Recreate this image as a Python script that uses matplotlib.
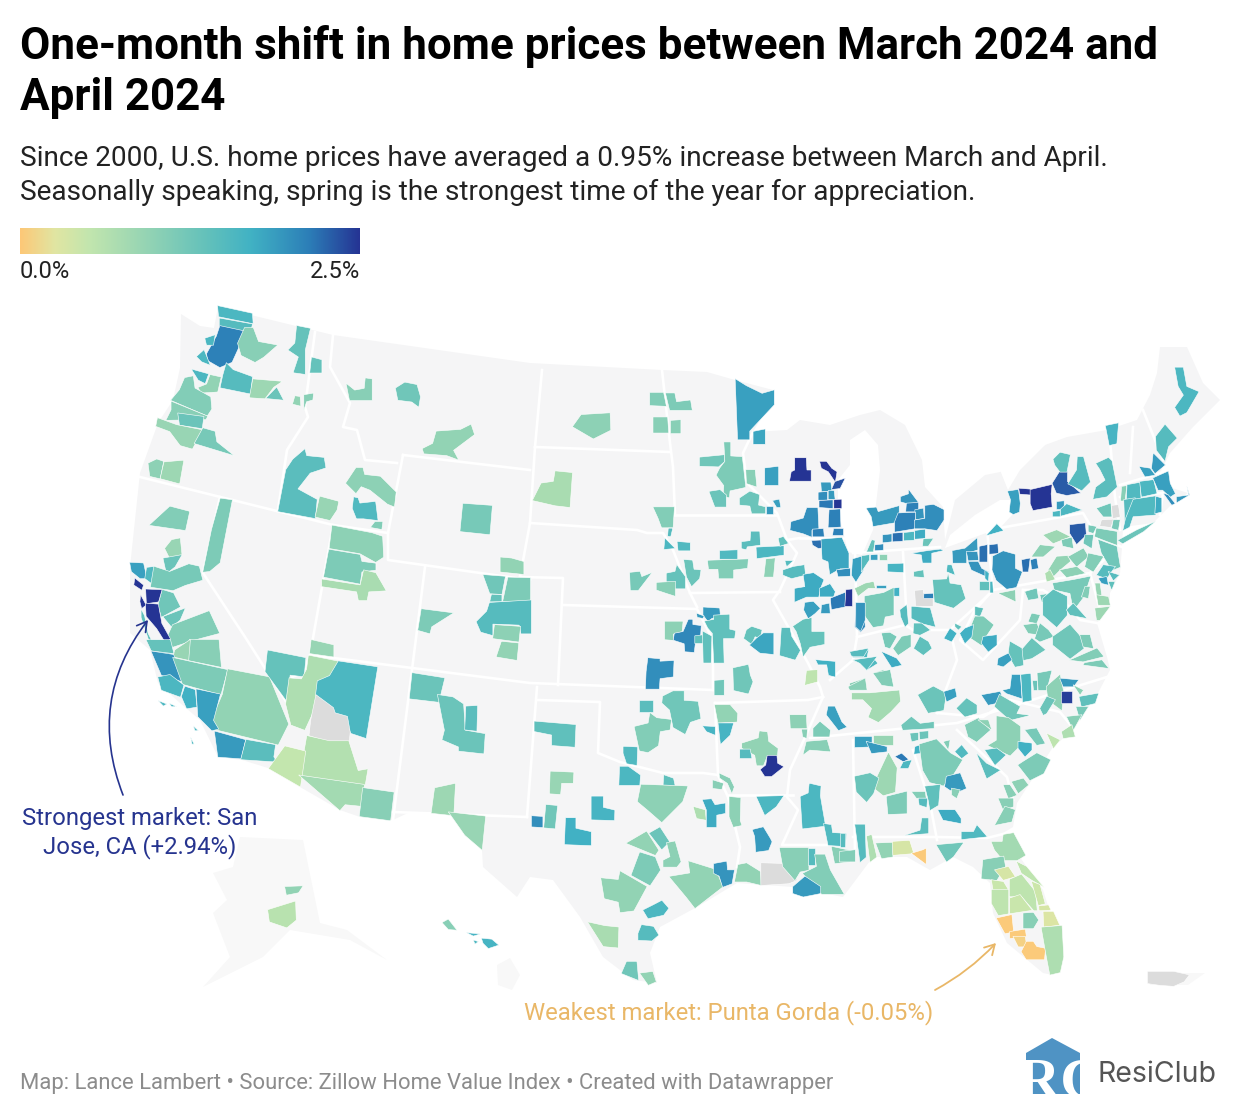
#!/usr/bin/env python3
"""One-month shift in home prices, market map (shapes traced off the published map)."""
import matplotlib
matplotlib.use("Agg")
import matplotlib.pyplot as plt
import numpy as np
from matplotlib.colors import LinearSegmentedColormap, Normalize
from matplotlib.patches import FancyArrowPatch, Polygon

NA = float("nan")

# ── Land, in map units ───────────────────────────────
lower48 = [(181,314),(200,326),(214,328),(218,307),(333,335),(530,363),(662,370),(707,372),(735,380),(773,390),
           (800,392),(845,400),(880,410),(905,425),(935,425),(965,445),(985,470),(1010,470),(1045,445),(1067,437),(1107,430),(1137,420),
           (1150,395),(1157,373),(1160,347),(1187,347),(1203,383),(1220,400),(1193,427),(1170,453),(1160,473),
           (1172,488),(1188,493),(1173,503),(1153,523),(1123,527),(1122,547),(1120,573),(1110,593),(1110,607),
           (1097,623),(1107,657),(1110,670),(1098,693),(1073,730),(1053,747),(1017,803),(1013,827),(1003,833),
           (1017,853),(1043,890),(1063,953),(1053,975),(1043,973),(1007,943),(993,913),(990,883),(973,867),
           (953,857),(930,870),(907,857),(873,857),(843,897),(793,887),(737,883),(697,907),(660,927),(650,953),
           (657,983),(633,980),(603,957),(580,917),(553,880),(530,877),(517,897),(483,867),(482,850),(448,812),
           (410,812),(393,820),(360,817),(340,810),(300,787),(268,768),(242,760),(218,757),(200,720),(180,703),
           (158,683),(150,650),(130,633),(130,567),(140,473),(158,423),(173,400),(180,368)]
lake_superior = [(773,390),(760,420),(753,432),(787,430),(800,420),(830,425),(860,415),(880,410),(880,395),(800,385)]
lake_michigan = [(878,445),(880,470),(873,530),(862,555),(848,552),(838,510),(838,480),(850,465),(850,440),(865,430)]
lake_huron = [(925,395),(1000,400),(1010,470),(985,475),(955,500),(945,540),(943,507),(925,487),(922,460),(905,425)]
lake_erie = [(945,548),(1000,528),(1012,515),(1012,500),(1000,500),(975,515),(950,535)]
lake_ontario = [(1008,490),(1020,470),(1045,445),(1012,440),(1000,470)]
alaska = [(240,837),(303,840),(320,923),(347,930),(387,960),(350,940),(290,930),(263,957),(203,987),(230,957),
          (213,913),(227,900),(213,873),(233,867)]
hawaii = [(497,965),(510,958),(520,975),(512,990),(498,985)]
puerto_rico = [(1148,973),(1205,973),(1188,985),(1150,985)]

# state lines
state_lines = [
    [(315,332),(305,407),(308,417),(287,450),(278,510)],
    [(333,335),(330,367),(350,403),(343,427),(357,430),(365,460),(397,463)],
    [(403,455),(530,470)], [(403,455),(388,533),(388,560),(530,580)],
    [(140,477),(333,525),(388,533)], [(220,497),(203,573),(247,640),(287,703),(293,723)],
    [(333,525),(310,655),(303,673),(292,677),(287,703)], [(310,655),(530,683),(713,690)],
    [(425,567),(393,820)], [(535,447),(542,370)], [(535,447),(530,523),(520,577)],
    [(520,577),(563,578),(558,685)], [(530,523),(637,530),(647,533),(663,533),(673,550),(690,593),(697,607)],
    [(563,605),(697,609),(713,640),(713,690)], [(537,687),(527,817)], [(393,812),(527,817)],
    [(537,700),(600,702),(598,753),(620,762),(663,773),(703,773),(718,775)],
    [(715,703),(718,775),(728,797),(740,847),(737,867)], [(715,703),(808,700),(823,697)],
    [(728,795),(793,795)], [(823,697),(807,733),(790,770),(787,797),(798,810),(782,845),(827,845)],
    [(853,740),(855,853)], [(810,738),(957,723),(1107,677)], [(913,750),(930,803),(937,840)],
    [(853,837),(937,837),(987,838),(1007,833)], [(957,730),(1007,777),(1013,800)],
    [(937,713),(983,717),(1010,700),(1060,712),(1073,728)], [(535,447),(670,452)],
    [(662,370),(670,443),(673,467),(675,515)], [(675,515),(777,515)], [(753,432),(743,453),(747,483),(777,513),(787,540),(797,553),(780,590),(773,600),(790,630),(808,663),(820,687),(823,697)],
    [(690,593),(780,592)], [(800,538),(848,538)], [(855,550),(857,637),(853,660),(830,680)],
    [(853,553),(940,547)], [(903,552),(907,623)], [(857,637),(905,625),(913,630),(950,630),(983,600),(993,590)],
    [(987,530),(993,590),(1090,573)], [(1000,528),(1083,513),(1097,537),(1107,557),(1090,573)],
    [(1097,537),(1122,547)], [(1023,590),(1043,590),(1070,607),(1080,620),(1097,623)], [(993,590),(975,610),(960,640),(983,660),(1020,620),(1023,590)],
    [(1143,410),(1163,460)], [(1133,427),(1130,473)], [(1110,440),(1115,497),(1120,530)], [(1120,485),(1160,473)], [(1120,497),(1163,493)],
    [(1090,573),(1100,610)], [(787,540),(800,538)], [(950,630),(957,660),(937,713)],
    [(1163,493),(1160,515)],
]

# ── Markets, traced per crop of the map: (crop corner) + coords / 3 ──
origin_nw = (130, 300)
shapes_nw = [
    [(265,18),(365,40),(367,70),(268,50)], [(270,55),(365,72),(360,95),(270,85)],
    [(270,80),(340,95),(330,130),(305,185),(270,200),(235,180),(232,160),(260,110)],
    [(225,115),(255,105),(250,135),(230,135)], [(200,170),(222,150),(240,195),(215,185)],
    [(345,85),(370,85),(385,125),(440,135),(400,170),(375,185),(335,165),(325,130)],
    [(500,80),(540,88),(525,150),(525,220),(490,215),(505,170),(475,150),(495,130)],
    [(545,172),(575,180),(575,218),(540,218)], [(185,208),(235,222),(225,250),(205,240)],
    [(240,225),(272,232),(262,275),(215,278),(205,262),(230,252)],
    [(290,190),(310,210),(365,230),(360,280),(272,262),(280,225)],
    [(370,238),(455,245),(430,262),(405,295),(360,292)], [(440,262),(460,300),(408,295)],
    [(495,288),(510,290),(512,318),(488,312)], [(522,285),(550,280),(548,300),(530,305),(522,330)],
    [(165,235),(190,230),(195,265),(240,290),(243,325),(230,345),(125,300),(150,270)],
    [(125,305),(230,348),(225,358),(110,360),(125,330)], [(145,340),(220,350),(215,385),(150,375)],
    [(85,355),(140,375),(215,390),(185,445),(150,435),(120,395),(80,380)],
    [(220,385),(255,395),(260,425),(310,465),(195,430)],
    [(55,490),(80,478),(100,485),(90,535),(60,528)], [(103,487),(160,482),(148,550),(92,535)],
    [(525,450),(530,470),(580,475),(585,505),(540,520),(505,565),(560,595),(555,650),(447,630),(470,510),(490,480)],
    [(570,590),(625,605),(620,630),(600,660),(557,650)],
    [(680,505),(700,505),(705,525),(750,530),(795,575),(790,618),(770,610),(720,570),(695,560),(680,580),(650,550)],
    [(672,592),(685,595),(690,610),(735,605),(742,660),(700,655),(680,655),(668,625)],
    [(735,665),(758,665),(755,688),(722,682)],
    [(650,250),(675,270),(702,265),(705,235),(725,238),(725,300),(660,300)],
    [(798,265),(825,248),(860,255),(870,290),(865,320),(845,305),(805,300)],
    [(920,395),(990,390),(1020,375),(1030,405),(970,450),(985,478),(950,465),(885,460),(880,445),(910,430)],
    [(1000,612),(1085,618),(1078,702),(992,693)],
    [(610,678),(725,700),(755,710),(758,770),(735,785),(690,760),(602,745)],
    [(600,750),(690,765),(695,785),(735,790),(735,810),(695,815),(690,850),(585,830)],
    [(580,838),(690,855),(700,812),(735,820),(765,872),(715,875),(710,900),(685,900),(680,875),(580,860)],
    [(1112,772),(1145,775),(1180,785),(1180,822),(1112,815)], [(1060,825),(1125,830),(1115,882),(1080,880)],
    [(1135,833),(1200,835),(1200,905),(1120,903)], [(1085,883),(1115,885),(1115,905),(1080,905)],
    [(1080,910),(1200,903),(1200,1000),(1170,1000),(1165,975),(1090,972),(1090,1005),(1055,995),(1042,965),(1072,935)],
    [(1095,975),(1170,980),(1165,1025),(1090,1015)], [(1115,1025),(1165,1030),(1160,1080),(1100,1070)],
    [(875,928),(968,940),(905,980),(900,1000),(865,990)],
    [(270,600),(305,605),(270,785),(240,810),(220,812),(245,690)], [(120,620),(177,635),(165,690),(60,675)],
    [(125,720),(150,715),(155,765),(120,775),(105,745)], [(100,775),(155,765),(135,800),(110,820)],
    [(0,788),(40,790),(50,835),(30,835),(5,815)], [(50,803),(75,800),(65,850),(45,835)],
    [(75,800),(120,815),(175,793),(205,800),(215,840),(165,855),(130,870),(65,860)],
    [(97,870),(130,880),(150,920),(95,950),(85,915)], [(100,950),(165,925),(150,960),(125,980)],
    [(130,975),(235,935),(265,1000),(190,1020),(130,1040),(110,1020)],
    [(35,930),(45,950),(55,1000),(70,1030),(130,1065),(125,1080),(65,1045),(35,955)],
    [(15,835),(40,855),(35,870),(12,855)], [(48,868),(95,870),(85,905),(50,910)], [(32,885),(48,915),(35,925),(30,905)],
    [(48,912),(85,915),(95,970),(120,1015),(105,1025),(80,985),(50,950)],
]
values_nw = [1.6,1.5,2.1,1.6,1.6,1.05,1.35,1.35,1.6,.95,1.5,.85,1.3,.95,1.05,1.1,1.05,1.3,.9,1.2,1.0,.85,
             1.45,.9,1.0,1.55,1.1,1.05,1.25,.95,1.2,1.0,1.15,.75,.95,1.25,1.15,1.35,1.5,1.0,.95,1.15,
             1.15,1.1,.9,1.3,1.85,1.55,1.2,1.25,1.3,1.1,1.4,2.6,2.6,2.5,2.6]

origin_sw = (130, 640)
shapes_sw = [
    [(180,0),(265,0),(272,80),(175,60)], [(135,30),(180,0),(175,60),(130,50)], [(50,0),(120,0),(130,40),(65,32)],
    [(65,35),(130,45),(160,125),(95,105)], [(132,55),(290,90),(270,162),(160,132)],
    [(295,92),(415,115),(470,250),(440,310),(255,265),(250,235),(280,165)],
    [(85,112),(120,105),(160,135),(150,170),(95,150)], [(165,140),(195,150),(200,200),(170,205),(155,170)],
    [(200,150),(270,165),(250,240),(265,265),(245,270),(205,230)], [(255,275),(345,300),(332,355),(265,350)],
    [(350,300),(435,315),(430,350),(440,365),(335,358)],
    [(415,33),(525,55),(520,110),(480,105),(470,180),(408,95)],
    [(535,50),(625,68),(600,110),(565,125),(555,200),(525,265),(485,250),(470,190),(480,115),(515,118),(530,90)],
    [(625,68),(738,85),(705,290),(660,275),(645,230),(610,220),(585,190),(560,165),(565,125),(600,110)],
    [(560,168),(610,205),(615,220),(650,230),(658,275),(655,305),(600,305),(540,285),(545,240)],
    [(535,290),(600,305),(655,305),(682,390),(710,385),(702,432),(515,405)],
    [(465,320),(525,335),(510,438),(418,385)], [(512,408),(700,435),(695,498),(645,493),(630,510)],
    [(700,445),(790,458),(780,540),(690,528)], [(848,100),(942,115),(925,185),(840,175)],
    [(925,168),(970,175),(1000,195),(1005,270),(1062,280),(1058,338),(985,330),(985,318),(938,298),(945,270),(938,235)],
    [(1008,200),(1042,198),(1040,272),(1005,268)], [(915,445),(975,432),(970,525),(905,518)],
    [(958,518),(1065,530),(1055,628),(1005,585)], [(545,0),(610,15),(610,50),(540,40)],
    [(465,740),(518,738),(505,758),(470,765)], [(415,810),(495,785),(497,840),(470,862),(420,845)],
    [(937,848),(955,838),(980,870),(955,868)], [(1010,878),(1050,882),(1030,888)],
    [(1055,895),(1085,898),(1105,915),(1075,925),(1060,910)], [(1030,900),(1045,905),(1035,912)],
    [(85,182),(110,192),(100,198)], [(118,190),(140,200),(125,200)], [(190,258),(205,272),(195,272)],
    [(182,292),(192,312),(186,312)],
]
values_sw = [1.05,.9,1.35,1.95,1.15,.95,1.6,1.7,1.85,1.9,1.45,1.35,.7,1.6,NA,.65,.5,.8,1.05,1.3,1.3,1.45,.85,.9,.9,
             .95,.6,1.05,1.65,1.65,1.6,1.6,1.6,1.6,1.6]

origin_nc = (520, 370)
shapes_nc = [
    [(390,68),(430,68),(438,108),(390,106)], [(438,70),(465,70),(470,95),(510,90),(515,120),(450,120)],
    [(400,142),(442,142),(445,188),(400,188)], [(452,152),(482,150),(482,190),(452,190)],
    [(185,135),(268,130),(270,180),(220,205),(160,170)], [(105,305),(155,310),(148,410),(105,405),(40,390),(65,340),(100,335)],
    [(648,30),(680,50),(725,72),(760,62),(760,105),(690,180),(690,205),(655,205)], [(700,185),(735,178),(735,222),(700,222)],
    [(612,220),(632,220),(632,260),(665,262),(675,350),(630,360),(628,380),(610,375),(612,345),(590,315),(600,295),(615,275)],
    [(540,262),(612,255),(612,275),(595,290),(540,288)], [(678,300),(705,300),(710,350),(680,340)],
    [(735,295),(775,290),(775,345),(735,345)], [(568,365),(600,360),(618,375),(618,410),(585,410)],
    [(690,365),(718,375),(715,405),(735,410),(735,430),(695,430),(690,408),(660,405),(660,385)],
    [(738,408),(758,408),(758,430),(738,430)], [(758,392),(778,388),(782,412),(770,412)],
    [(825,265),(858,265),(860,300),(872,300),(872,332),(810,332),(815,305),(825,300)],
    [(900,275),(920,275),(935,295),(950,305),(945,335),(925,305),(905,295)], [(945,335),(975,325),(960,355),(935,358)],
    [(903,337),(932,337),(935,362),(905,365)], [(895,367),(922,365),(922,390),(895,390)], [(925,362),(942,362),(945,388),(925,388)],
    [(898,392),(938,390),(938,415),(898,412)], [(942,390),(965,388),(965,415),(942,415)],
    [(860,415),(892,415),(895,478),(875,480),(875,500),(850,490),(812,480),(815,455),(850,445)],
    [(928,420),(960,418),(962,470),(925,472)], [(940,475),(968,475),(968,495),(938,495)], [(878,478),(910,476),(912,500),(878,500)],
    [(876,512),(915,510),(915,532),(895,535),(878,525)],
    [(905,510),(965,505),(985,550),(985,595),(960,595),(930,612),(925,575),(908,568)], [(950,600),(990,595),(990,618),(955,620)],
    [(998,568),(1025,560),(1030,600),(1008,635),(995,615)],
    [(692,485),(718,485),(720,525),(682,530),(680,538),(665,535),(665,515),(690,512)], [(710,532),(790,528),(790,555),(712,565)],
    [(775,505),(790,500),(805,520),(780,528)], [(600,542),(652,540),(652,567),(600,567)],
    [(565,572),(682,568),(680,595),(640,600),(640,625),(597,625),(595,598),(568,598)], [(738,568),(765,565),(760,620),(732,620)],
    [(795,572),(820,572),(800,590)], [(790,600),(820,590),(852,585),(855,615),(815,625),(790,615)],
    [(400,412),(462,412),(458,472),(425,472),(415,445)], [(445,475),(458,475),(452,500),(443,498)], [(435,505),(465,535),(432,538)],
    [(472,515),(510,518),(510,542),(475,542)], [(492,570),(518,572),(522,598),(542,600),(538,625),(515,648),(500,620)],
    [(440,610),(465,605),(470,585),(495,620),(495,655),(465,655),(440,635)], [(410,638),(465,635),(465,678),(440,670),(410,660)],
    [(330,608),(360,605),(365,620),(395,608),(355,660),(332,660)],
    [(550,712),(598,715),(600,738),(575,745),(565,755),(550,735)], [(530,730),(552,738),(548,745),(532,742)],
    [(435,755),(488,755),(485,785),(460,792),(460,810),(435,808)],
    [(505,750),(518,750),(518,765),(542,768),(540,800),(525,820),(522,845),(495,843),(493,820),(462,810),(465,790),(490,785)],
    [(525,798),(548,795),(550,820),(525,820)],
    [(555,755),(582,750),(582,738),(628,735),(628,778),(645,782),(642,805),(610,805),(612,875),(582,875),(578,790),(565,775)],
    [(548,785),(575,800),(573,877),(550,877)],
    [(385,865),(420,868),(420,875),(460,873),(458,920),(420,925),(418,955),(378,955),(380,905)],
    [(680,780),(695,770),(725,780),(720,805),(705,800),(695,822),(672,805)], [(690,825),(710,805),(730,790),(760,790),(760,852),(720,848)],
    [(785,775),(810,775),(815,800),(840,840),(825,868),(780,855)],
    [(850,750),(875,745),(875,785),(912,785),(912,822),(870,830),(850,858),(842,820),(830,785),(820,770)],
    [(850,615),(880,610),(910,630),(900,655),(895,680),(860,680),(825,695),(825,655),(855,650)], [(900,655),(930,642),(945,665),(940,680),(900,680)],
    [(932,685),(975,668),(975,710),(935,718)], [(978,660),(997,658),(997,708),(975,708)],
    [(855,698),(880,695),(900,715),(885,730),(865,745),(852,720)], [(905,705),(928,700),(930,730),(903,730)],
    [(1008,700),(1032,700),(1035,770),(1022,785),(1005,770)], [(888,870),(945,875),(945,920),(925,915),(920,885),(895,885)],
    [(860,902),(892,900),(892,935),(855,945)], [(640,895),(685,885),(690,915),(698,935),(685,970),(642,960)],
    [(583,932),(612,930),(612,975),(583,975)], [(990,850),(1045,838),(1040,862),(1000,862)],
    [(1000,872),(1025,870),(1060,865),(1072,880),(1040,900),(1025,880)],
]
values_nc = [1.1,1.15,1.05,1.05,1.0,.75,1.85,1.8,1.15,1.25,1.05,1.85,1.3,1.3,1.9,1.85,2.6,2.5,2.35,1.9,2.0,1.9,2.15,2.6,
             2.0,2.1,2.1,2.1,2.2,1.8,2.0,1.85,1.45,1.6,1.4,1.55,1.1,1.0,1.5,1.5,1.1,1.5,1.6,1.55,1.3,1.35,1.05,1.2,
             1.9,1.9,1.0,2.05,1.4,1.4,1.4,2.0,1.35,1.8,1.45,1.35,1.75,1.75,2.15,2.55,1.85,1.9,2.05,1.7,.55,1.25,1.25,1.55,1.55]

origin_ne = (840, 340)
shapes_ne = [
    [(80,505),(110,502),(115,515),(175,498),(175,545),(100,558),(95,530)], [(182,470),(205,462),(205,448),(235,488),(200,490),(182,485)],
    [(200,490),(235,488),(235,515),(198,515)], [(225,510),(250,505),(252,535),(228,538)], [(175,520),(225,518),(225,565),(165,575),(165,545)],
    [(255,498),(280,495),(310,510),(310,540),(290,570),(255,565),(225,565),(225,540),(255,535)],
    [(128,585),(155,582),(155,605),(128,608)], [(158,580),(188,578),(188,603),(158,605)], [(192,578),(222,575),(222,600),(192,602)],
    [(225,572),(255,568),(255,595),(225,597)], [(250,597),(280,595),(265,618),(248,618)], [(105,615),(130,612),(130,630),(105,632)],
    [(95,600),(105,602),(100,635),(80,635)], [(65,648),(88,645),(88,660),(68,690),(65,695)], [(92,645),(113,643),(113,660),(92,660)],
    [(117,643),(140,643),(140,660),(117,660)], [(143,672),(190,670),(190,697),(143,695)],
    [(45,745),(75,730),(100,725),(105,745),(85,745),(55,768)], [(108,735),(138,735),(138,745),(108,745)], [(157,745),(178,743),(178,768),(157,768)],
    [(75,770),(130,760),(160,745),(160,825),(135,830),(130,855),(100,860),(75,825)], [(215,640),(265,632),(300,628),(310,632),(275,640),(275,668),(248,668),(245,645)],
    [(222,695),(250,690),(252,712),(222,710)], [(322,675),(335,675),(345,705),(320,695)],
    [(338,632),(375,625),(410,595),(412,630),(380,640),(380,668),(340,668)], [(380,635),(412,635),(415,660),(385,662)],
    [(418,620),(442,615),(442,665),(418,665)], [(448,615),(473,612),(475,640),(448,642)], [(385,665),(415,665),(425,685),(445,695),(440,710),(395,690)],
    [(418,725),(445,725),(445,750),(418,750)], [(435,690),(447,700),(445,725),(435,715)], [(450,725),(458,725),(460,758),(450,758)],
    [(225,752),(250,750),(250,760),(278,762),(278,798),(228,797)], [(252,762),(280,760),(280,775),(252,775)],
    [(280,720),(320,718),(325,700),(330,730),(362,735),(375,775),(340,802),(285,785)],
    [(460,650),(490,635),(525,645),(525,685),(545,695),(528,740),(500,745),(470,720),(458,690)], [(545,660),(570,655),(565,695),(548,695)],
    [(572,660),(590,655),(595,685),(575,688)], [(440,585),(470,552),(490,572),(445,585)],
    [(503,455),(535,450),(540,490),(538,515),(520,522),(508,515),(512,480)], [(537,445),(575,448),(575,465),(540,462)],
    [(572,450),(635,435),(632,462),(635,500),(580,510),(572,490)], [(638,430),(660,395),(682,395),(682,425),(720,458),(680,465),(650,458)],
    [(650,485),(672,483),(672,508),(650,508)], [(638,515),(660,512),(660,530),(638,530)], [(662,508),(680,492),(725,510),(662,528)],
    [(640,358),(660,338),(690,345),(680,395),(660,395),(645,375)], [(712,352),(730,352),(750,425),(725,450),(685,430),(710,390)],
    [(768,372),(805,355),(815,365),(830,440),(800,468),(760,475),(768,440),(795,420),(780,390)], [(797,258),(835,250),(830,310),(808,315)],
    [(1005,85),(1030,85),(1040,140),(1075,155),(1040,215),(1020,225),(1005,200),(1030,165),(1015,140)], [(975,255),(1010,295),(985,320),(975,362),(950,330),(948,290)],
    [(940,340),(975,375),(945,400),(935,385)], [(898,380),(930,385),(945,405),(915,410)],
    [(845,440),(860,438),(855,482),(842,482)], [(862,435),(900,428),(902,475),(860,480)], [(900,425),(940,420),(950,460),(905,470)],
    [(940,415),(985,395),(990,430),(1005,460),(990,470),(968,450),(955,450)], [(970,460),(985,465),(1005,490),(995,495)],
    [(1010,470),(1045,465),(1040,440),(1048,465),(1010,488)], [(852,480),(885,475),(880,520),(855,560)],
    [(880,480),(945,470),(945,525),(880,530),(870,560),(850,570),(858,535)], [(948,470),(965,475),(965,515),(945,520)],
    [(835,600),(890,570),(945,545),(910,575),(850,610)], [(770,505),(812,490),(815,530),(790,530)], [(815,497),(835,495),(840,530),(818,535)],
    [(785,540),(820,538),(812,562),(780,558)], [(820,540),(840,540),(835,570),(815,565)],
    [(690,555),(735,550),(738,585),(710,612),(690,580)], [(610,585),(650,570),(690,590),(640,610)], [(665,600),(695,592),(700,625),(668,618)],
    [(575,650),(600,615),(645,620),(610,650)], [(745,555),(770,560),(760,580),(745,575)], [(770,565),(830,575),(830,615),(790,600),(765,590)],
    [(735,585),(760,585),(755,625),(730,610)], [(775,600),(830,620),(840,680),(815,690),(785,640)],
    [(625,690),(650,650),(685,648),(690,665),(660,690),(635,715)], [(685,650),(730,625),(745,650),(710,680)], [(660,690),(710,680),(735,700),(680,712)],
    [(745,640),(790,650),(760,695),(735,680)], [(615,700),(630,690),(645,718),(620,725)],
    [(770,705),(790,675),(825,680),(800,715)], [(775,715),(800,710),(805,735),(785,730)], [(805,695),(838,705),(820,722)], [(805,725),(825,725),(815,750)],
    [(640,730),(700,720),(750,710),(730,770),(700,810),(690,760),(645,750)], [(555,755),(590,745),(595,775),(565,780)], [(600,765),(620,762),(618,790),(605,785)],
    [(475,760),(525,750),(527,785)], [(765,730),(780,730),(785,765),(770,765)], [(770,765),(805,770),(810,795),(775,795)], [(765,805),(810,800),(780,840),(770,840)],
    [(735,740),(750,740),(745,775),(725,770)], [(610,775),(640,750),(680,770),(680,825),(650,860),(610,825)], [(680,810),(700,790),(740,835),(690,825)],
    [(575,820),(600,825),(590,850),(565,845)], [(550,855),(590,850),(605,885),(565,880)], [(600,850),(625,870),(640,890),(600,905),(585,895)],
    [(640,890),(690,855),(725,895),(730,925),(690,955),(640,915)], [(720,885),(750,885),(760,925),(730,920)], [(690,960),(770,925),(790,950),(730,965)],
    [(735,968),(785,960),(805,985),(730,975)], [(575,895),(615,930),(575,955),(530,965),(540,935)], [(510,905),(545,925),(550,975),(525,980),(505,945)],
    [(475,955),(505,940),(515,960),(490,980),(472,975)], [(405,800),(430,805),(420,830),(405,825)],
    [(405,830),(430,830),(460,855),(440,885),(425,915),(380,885),(395,855)], [(430,890),(470,885),(470,915),(445,935),(425,910)],
    [(375,865),(400,855),(395,890),(375,910),(360,880)], [(345,850),(365,860),(355,870),(345,860)], [(312,895),(330,865),(350,880),(335,905)],
    [(48,790),(75,790),(75,840),(62,872),(48,860)], [(180,810),(200,795),(205,850),(195,860),(182,830)], [(215,800),(270,805),(285,860),(245,850),(215,835)],
    [(222,850),(245,850),(270,870),(240,885),(220,880)], [(240,890),(265,905),(275,925),(250,945),(222,925)], [(125,880),(150,878),(170,890),(150,925),(135,920)],
    [(185,890),(212,885),(212,920),(175,945),(160,925)], [(30,935),(85,925),(70,950),(35,948)], [(40,960),(110,950),(80,990),(60,970)],
    [(125,935),(170,955),(185,975),(155,982)], [(100,1000),(130,990),(160,1030),(120,1020)], [(30,1030),(75,1015),(70,1050),(30,1050)],
]
values_ne = [1.9,1.95,2.1,1.95,2.1,2.0,1.95,2.2,1.6,1.75,1.3,2.0,1.35,1.5,1.85,1.0,1.65,.85,1.85,1.7,1.2,1.75,1.35,1.55,
             1.9,1.95,2.2,2.2,1.95,1.4,1.7,1.6,NA,2.1,1.35,1.95,2.2,2.1,1.7,1.85,2.5,2.65,2.3,1.9,1.6,1.6,1.4,1.5,1.45,1.65,
             1.6,1.5,1.9,1.85,1.05,1.55,1.6,1.85,2.0,1.9,1.5,1.55,1.75,1.3,1.25,NA,NA,1.2,2.3,.85,1.15,1.0,1.2,1.15,1.25,1.25,
             .95,1.05,1.0,1.1,.7,1.5,1.85,1.5,1.4,1.2,1.25,1.25,1.0,.9,.85,.85,1.1,1.4,1.4,1.15,1.1,1.2,1.25,1.15,1.1,1.15,1.3,1.35,
             1.85,1.4,1.15,1.75,1.7,1.4,1.7,1.95,1.5,1.5,1.4,1.4,1.2,1.15,1.5,1.5,1.75,1.05,1.05]

origin_sc = (520, 670)
shapes_sc = [
    [(45,155),(165,165),(162,230),(95,225),(95,195),(45,185)], [(92,305),(160,308),(158,340),(125,340),(122,372),(90,370)], [(358,92),(398,92),(398,125),(358,125)],
    [(430,80),(460,65),(492,65),(492,92),(532,95),(540,145),(510,155),(495,190),(460,170),(450,120),(428,100)],
    [(390,130),(410,145),(452,150),(448,180),(420,185),(415,225),(385,245),(360,240),(345,170),(385,160)],
    [(310,230),(352,232),(350,285),(320,280),(310,250)], [(300,290),(325,290),(360,315),(358,345),(298,345)], [(432,315),(460,325),(465,348),(430,345)],
    [(548,168),(585,170),(585,195),(560,185)], [(585,105),(630,105),(652,130),(650,155),(595,158)], [(595,160),(640,160),(630,195),(602,222)],
    [(578,330),(610,340),(605,358),(578,355)], [(598,310),(630,325),(642,350),(635,370),(622,340),(600,325)],
    [(668,220),(715,205),(718,185),(742,188),(745,215),(772,235),(770,258),(740,260),(730,285),(710,285),(705,255),(668,235)], [(660,238),(690,238),(695,265),(660,265)],
    [(742,258),(770,258),(772,280),(790,290),(755,318),(735,318),(722,298),(738,285)], [(810,135),(858,135),(860,175),(812,175)], [(845,178),(862,178),(860,205),(848,200)],
    [(880,175),(900,155),(930,180),(928,200),(880,200)], [(925,110),(945,110),(965,155),(980,170),(955,180),(920,135)], [(860,215),(920,210),(930,245),(870,240),(850,255)],
    [(365,345),(500,350),(485,395),(425,455),(385,420),(355,395)], [(215,380),(250,380),(250,412),(283,420),(282,450),(215,448)], [(78,405),(112,408),(105,475),(72,472)],
    [(35,438),(68,440),(68,472),(35,470)], [(138,445),(168,445),(168,475),(212,485),(212,525),(135,522)], [(520,410),(555,420),(558,450),(530,445)],
    [(548,390),(575,388),(585,405),(615,400),(615,430),(590,435),(590,470),(560,470),(560,420)], [(628,382),(662,385),(660,450),(665,465),(640,470),(628,440)],
    [(710,380),(790,378),(768,410),(735,435)], [(698,480),(730,472),(750,505),(755,515),(745,540),(708,545),(705,500)],
    [(868,342),(902,350),(900,378),(915,465),(848,473),(842,380),(865,370)], [(912,462),(935,465),(938,488),(978,490),(975,528),(925,525)],
    [(320,520),(380,485),(415,540),(405,555)], [(388,490),(420,472),(448,515),(425,538)], [(440,520),(465,515),(482,575),(470,590),(430,590),(430,570),(450,560)],
    [(360,548),(405,562),(420,600),(390,645),(335,615)], [(245,625),(295,630),(300,605),(335,625),(378,650),(340,720),(300,725),(295,695),(255,685)],
    [(450,620),(510,610),(505,575),(585,600),(605,650),(525,712),(500,680)], [(582,582),(620,575),(622,600),(642,600),(635,640),(608,650),(598,618),(582,610)],
    [(645,635),(655,585),(680,580),(720,605),(722,645),(680,635)], [(370,720),(400,705),(425,692),(445,715),(430,735),(385,745)],
    [(355,790),(365,765),(400,770),(415,795),(395,812),(355,810)], [(205,757),(255,768),(295,772),(293,832),(250,828)], [(320,875),(350,875),(355,930),(305,910)],
    [(360,910),(398,905),(408,935),(385,945)], [(725,580),(790,582),(830,630),(805,640),(725,645)],
    [(780,535),(865,535),(865,600),(840,605),(825,630),(790,590)], [(865,535),(885,535),(885,585),(865,585)], [(885,555),(915,555),(930,600),(970,670),(905,670),(850,610),(890,590)],
    [(820,650),(855,620),(900,650),(900,670),(850,680),(820,670)], [(935,530),(1005,545),(990,575),(945,580)],
]
values_sc = [1.4,.9,1.45,1.25,1.1,1.55,1.6,1.4,1.65,.95,1.65,1.05,1.05,.95,1.5,2.65,1.0,1.05,1.15,1.85,1.05,
             1.0,1.65,1.25,2.0,1.7,.7,1.75,1.0,1.6,1.9,1.6,1.55,.95,1.3,1.0,1.15,.95,.95,1.95,.95,1.6,1.5,.75,1.25,.95,NA,
             1.05,1.5,1.1,1.9,1.05]

origin_se = (840, 670)
shapes_se = [
    [(38,70),(90,70),(175,62),(178,95),(150,125),(115,155),(85,140),(95,115),(70,90),(38,90)], [(25,50),(75,25),(80,60),(30,60)], [(100,10),(150,0),(160,50),(125,45)],
    [(235,75),(280,50),(318,70),(310,120),(265,128)], [(312,65),(345,55),(350,80),(320,95)], [(350,115),(380,85),(410,105),(410,130),(375,140)],
    [(425,75),(480,65),(490,95),(445,105)], [(488,60),(510,55),(515,15),(540,15),(545,85),(500,70)], [(543,15),(572,12),(575,90),(548,95)],
    [(575,30),(590,30),(590,60),(578,60)], [(592,10),(635,2),(620,60),(595,60)], [(620,50),(660,15),(670,65),(665,120),(625,90)],
    [(660,25),(715,30),(700,50),(670,50)], [(665,65),(695,65),(695,98),(665,98)], [(700,45),(730,60),(720,75)], [(718,80),(775,70),(765,100),(725,110)],
    [(600,115),(620,80),(645,90),(620,130),(610,135)], [(708,110),(745,110),(720,150)], [(680,140),(725,135),(700,180)], [(665,185),(695,165),(705,200),(670,205)],
    [(620,190),(660,210),(640,235)], [(480,75),(540,110),(530,130),(570,135),(510,150),(465,110)], [(470,140),(505,145),(540,170),(540,225),(510,255),(445,225),(470,210)],
    [(555,180),(590,175),(615,220),(590,225)], [(535,215),(575,220),(575,240),(555,260),(535,235)], [(550,275),(590,250),(630,270),(610,310),(570,330),(535,285)],
    [(185,165),(215,140),(240,160),(280,155),(280,175),(190,180)], [(375,165),(415,145),(450,180),(410,215),(385,200)], [(415,150),(445,150),(455,180)],
    [(410,250),(440,280),(480,300),(440,325)], [(435,240),(470,235),(497,255),(465,285)], [(45,200),(95,200),(95,230),(45,232)], [(100,195),(158,195),(158,225),(100,225)],
    [(80,215),(140,230),(140,245),(95,250)], [(210,190),(235,188),(235,210),(215,215)], [(238,185),(265,183),(265,205),(240,208)], [(225,230),(240,225),(242,250),(222,252)],
    [(165,260),(185,250),(205,268),(190,275)], [(190,275),(215,270),(205,295),(180,295)], [(112,320),(145,250),(170,295),(165,365),(130,375),(105,355)],
    [(45,320),(90,310),(115,325),(100,370),(80,395),(50,365)], [(140,380),(200,365),(200,430),(145,432)], [(240,225),(290,210),(330,250),(365,270),(340,310),(310,345),(270,335),(250,300)],
    [(310,215),(330,210),(325,240)], [(345,245),(365,225),(385,250),(365,265)], [(320,320),(360,310),(378,355),(355,365),(330,360),(315,350)], [(335,355),(360,360),(350,385),(335,375)],
    [(255,350),(300,345),(295,405),(270,420),(265,390)], [(215,365),(255,365),(258,385),(230,385)], [(235,385),(262,385),(260,412),(238,405)], [(295,420),(345,420),(362,445),(362,460),(310,450)],
    [(490,345),(510,345),(530,375),(505,385)], [(515,335),(550,325),(565,345),(535,370)], [(475,385),(520,385),(520,410),(490,420)], [(495,410),(525,420),(515,455),(465,465)],
    [(195,495),(240,480),(245,445),(265,445),(265,490)], [(365,485),(400,485),(410,465),(440,500),(365,508)], [(290,525),(370,518),(340,560),(320,575)],
    [(45,465),(75,465),(78,560),(60,575)], [(0,490),(15,490),(15,530),(0,530)], [(0,545),(45,540),(45,575),(0,575)], [(80,500),(95,495),(110,560),(90,575)],
    [(108,520),(158,518),(158,560),(125,565)], [(158,515),(208,512),(220,550),(160,555)], [(215,550),(248,540),(258,535),(258,582)],
    [(490,495),(520,490),(555,555),(530,570),(490,570),(465,540),(455,515),(487,515)], [(430,570),(490,560),(495,590),(470,630),(425,625)], [(465,600),(505,590),(525,620),(490,630)],
    [(530,575),(560,590),(610,650),(575,630),(545,610)], [(510,630),(545,615),(585,665),(590,720),(580,720),(545,680),(510,680)], [(455,630),(490,635),(505,660),(460,660)],
    [(455,660),(505,660),(505,730),(475,735),(455,700)], [(510,685),(540,675),(575,720),(510,730)], [(575,635),(600,645),(615,700),(595,705)], [(597,708),(625,705),(632,720),(598,722)],
    [(610,725),(640,725),(658,765),(612,770)], [(470,745),(515,735),(520,785),(495,790)], [(550,730),(580,728),(595,750),(580,775),(550,775)], [(510,785),(555,778),(558,800),(510,805)],
    [(520,800),(555,800),(560,830),(535,830)], [(560,815),(580,815),(590,830),(615,835),(612,868),(560,868),(545,845)], [(605,775),(665,770),(670,860),(660,905),(630,912),(620,860)],
    [(925,905),(960,905),(1000,905),(1045,915),(1030,935),(1000,948),(960,945),(925,940)],
]
values_se = [.8,1.05,1.1,1.3,1.85,1.35,1.9,1.85,1.6,1.3,1.2,1.0,1.9,2.45,1.0,1.4,1.3,1.2,1.05,.7,.55,1.25,1.0,1.2,1.7,1.15,
             1.25,1.1,1.0,1.45,1.5,1.85,.9,1.9,1.3,1.3,1.7,2.15,1.6,.85,1.3,1.15,1.15,1.1,1.55,1.9,1.05,1.4,1.1,1.5,1.75,
             1.05,1.0,1.05,1.05,1.45,1.55,1.25,1.5,1.5,1.1,.7,.95,.35,.02,.8,1.05,.35,.55,.55,.45,.55,.45,.42,.35,.3,.02,1.05,.02,.08,.02,.7,NA]

regions = [(origin_nw, shapes_nw, values_nw), (origin_sw, shapes_sw, values_sw), (origin_nc, shapes_nc, values_nc),
           (origin_ne, shapes_ne, values_ne), (origin_sc, shapes_sc, values_sc), (origin_se, shapes_se, values_se)]

# ── Colours ──────────────────────────────────────────
C_LAND = "#f5f5f6"
C_INSET = "#f8f8f8"
C_NODATA = "#dcdcdc"
C_STRONG = "#26348f"
C_WEAK = "#e9b767"
cmap = LinearSegmentedColormap.from_list("resi", [(0, "#fdc877"), (0.1, "#e1e5a2"), (0.2, "#c3e6ae"), (0.4, "#8dd1b5"),
                                                  (0.55, "#63c1bb"), (0.68, "#41b2c4"), (0.85, "#2c7fb8"), (1, "#253494")])
norm = Normalize(0, 2.5)

plt.rcParams["font.family"] = ["Roboto", "DejaVu Sans"]
fig = plt.figure(figsize=(12.4, 11.16), dpi=100)
ax = fig.add_axes([0, 0, 1, 1])
ax.set_xlim(0, 1240)
ax.set_ylim(1116, 0)
ax.axis("off")

# land
ax.add_patch(Polygon(lower48, closed=True, fc=C_LAND, ec="none", zorder=1))
for land in [alaska, hawaii, puerto_rico]:
    ax.add_patch(Polygon(land, closed=True, fc=C_INSET, ec="none", zorder=1))
for lake in [lake_superior, lake_michigan, lake_huron, lake_erie, lake_ontario]:
    ax.add_patch(Polygon(lake, closed=True, fc="white", ec="none", zorder=2))

# markets, grown a little about their centres since the tracing runs inside the real edges
for (ox, oy), shapes, values in regions:
    assert len(shapes) == len(values), (ox, oy, len(shapes), len(values))
    for shape, val in zip(shapes, values):
        pts = np.array([(ox + x / 3, oy + y / 3) for x, y in shape])
        pts = pts.mean(axis=0) + (pts - pts.mean(axis=0)) * 1.05
        color = C_NODATA if np.isnan(val) else cmap(norm(val))
        ax.add_patch(Polygon(pts, closed=True, fc=color, ec="white", lw=0.4, zorder=3))

# state lines, on top of land but below the market fills
for line in state_lines:
    xs, ys = zip(*line)
    ax.plot(xs, ys, color="white", lw=1.9, zorder=2.5, solid_joinstyle="round")

# ── Title block ──
ax.text(20, 47, "One-month shift in home prices between March 2024 and", fontsize=31.7, fontweight="bold",
        va="center", ha="left", color="#000000")
ax.text(20, 98, "April 2024", fontsize=31.7, fontweight="bold", va="center", ha="left", color="#000000")
ax.text(20, 158, "Since 2000, U.S. home prices have averaged a 0.95% increase between March and April.",
        fontsize=20.15, va="center", ha="left", color="#222222")
ax.text(20, 192, "Seasonally speaking, spring is the strongest time of the year for appreciation.",
        fontsize=20.15, va="center", ha="left", color="#222222")

# colour legend
cax = fig.add_axes([20 / 1240, 1 - 254 / 1116, 340 / 1240, 26 / 1116])
cax.imshow(np.linspace(0, 2.5, 256)[None, :], cmap=cmap, norm=norm, aspect="auto")
cax.axis("off")
ax.text(20, 271, "0.0%", fontsize=17, va="center", ha="left", color="#222222")
ax.text(360, 271, "2.5%", fontsize=17, va="center", ha="right", color="#222222")

# annotations
ax.text(140, 833, "Strongest market: San\nJose, CA (+2.94%)", fontsize=17.2, color=C_STRONG, ha="center", va="center",
        linespacing=1.18)
ax.add_patch(FancyArrowPatch((123, 795), (148, 620), connectionstyle="arc3,rad=-0.28", arrowstyle="->,head_length=7,head_width=4",
                             color=C_STRONG, lw=1.2, zorder=6, shrinkA=0, shrinkB=0))
ax.text(729, 1013, "Weakest market: Punta Gorda (-0.05%)", fontsize=17.2, color=C_WEAK, ha="center", va="center")
ax.add_patch(FancyArrowPatch((935, 990), (996, 943), connectionstyle="arc3,rad=0.08", arrowstyle="->,head_length=7,head_width=4",
                             color=C_WEAK, lw=1.3, zorder=6, shrinkA=0, shrinkB=0))

# footer
ax.text(20, 1084, "Map: Lance Lambert • Source: Zillow Home Value Index • Created with Datawrapper", fontsize=15.85,
        color="#8c8c8c", va="center", ha="left")

# logo
house = Polygon([(1026, 1053), (1052, 1038), (1080, 1053), (1080, 1094), (1026, 1094)], closed=True, fc="#4f93c4", ec="none", zorder=4)
ax.add_patch(house)
rc = ax.text(1018, 1097, "RC", fontsize=42, fontweight="bold", family="Liberation Serif", color="white",
             va="baseline", ha="left", zorder=5)
rc.set_clip_path(house)
ax.text(1097, 1075, "ResiClub", fontsize=20.5, color="#555555", va="center", ha="left", family="Inter")

fig.savefig("out.png", dpi=100, facecolor="white")
plt.close(fig)
